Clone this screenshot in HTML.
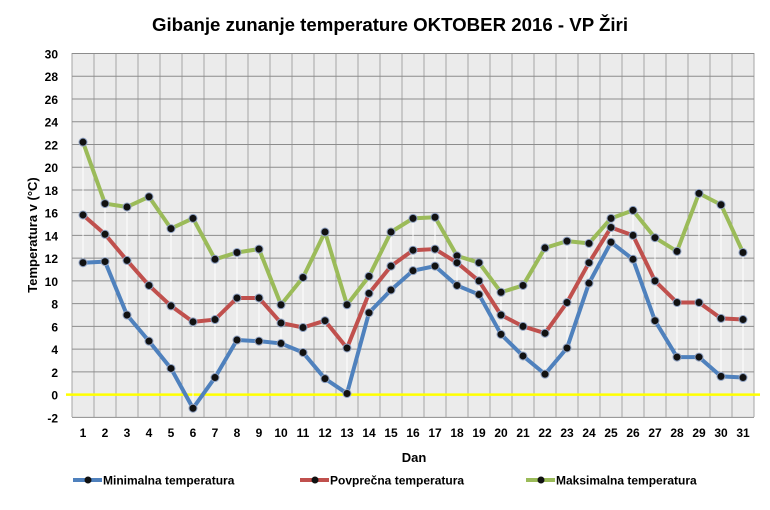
<!DOCTYPE html>
<html><head><meta charset="utf-8"><style>
body{margin:0;background:#fff;width:770px;height:505px;overflow:hidden}
svg text{font-family:"Liberation Sans",sans-serif;font-weight:bold}
</style></head><body>
<svg id="s" width="770" height="505" xmlns="http://www.w3.org/2000/svg">
<rect width="770" height="505" fill="#fff"/>
<text x="390" y="31" font-size="18" text-anchor="middle" textLength="476" lengthAdjust="spacingAndGlyphs">Gibanje zunanje temperature OKTOBER 2016 - VP Žiri</text>
<rect x="72" y="53" width="682" height="364" fill="#ebebeb"/>
<g id="g"></g>
<text x="414" y="462" font-size="13" text-anchor="middle">Dan</text>
<text transform="translate(37,235) rotate(-90)" font-size="13" text-anchor="middle">Temperatura v (°C)</text>
<g id="leg"></g>
</svg>
<script>
var mn=[11.6,11.7,7.0,4.7,2.3,-1.2,1.5,4.8,4.7,4.5,3.7,1.4,0.1,7.2,9.2,10.9,11.3,9.6,8.8,5.3,3.4,1.8,4.1,9.8,13.4,11.9,6.5,3.3,3.3,1.6,1.5];
var av=[15.8,14.1,11.8,9.6,7.8,6.4,6.6,8.5,8.5,6.3,5.9,6.5,4.1,8.9,11.3,12.7,12.8,11.6,10.0,7.0,6.0,5.4,8.1,11.6,14.7,14.0,10.0,8.1,8.1,6.7,6.6];
var mx=[22.2,16.8,16.5,17.4,14.6,15.5,11.9,12.5,12.8,7.9,10.3,14.3,7.9,10.4,14.3,15.5,15.6,12.2,11.6,9.0,9.6,12.9,13.5,13.3,15.5,16.2,13.8,12.6,17.7,16.7,12.5];
function Y(v){return 394.6-11.37*v}
function X(i){return 83+22*i}
var h='';
for(var k=0;k<=31;k++){var x=72+22*k;h+='<line x1="'+x+'" y1="53" x2="'+x+'" y2="417" stroke="#a6a6a6" stroke-width="1"/>';}
for(var v=-2;v<=30;v+=2){var y=Y(v);h+='<line x1="72" y1="'+y+'" x2="754" y2="'+y+'" stroke="#8c8c8c" stroke-width="1"/>';
h+='<text x="58" y="'+(y+5)+'" font-size="12" text-anchor="end">'+v+'</text>';}
h+='<line x1="66" y1="'+Y(0)+'" x2="760" y2="'+Y(0)+'" stroke="#ffff00" stroke-width="2.5"/>';
for(var i=0;i<31;i++){h+='<line x1="'+X(i)+'" y1="'+Y(mx[i])+'" x2="'+X(i)+'" y2="'+Y(mn[i])+'" stroke="#fff" stroke-width="1"/>';
h+='<text x="'+X(i)+'" y="437" font-size="12" text-anchor="middle">'+(i+1)+'</text>';}
function ser(d,c){var p=d.map(function(v,i){return X(i)+','+Y(v)}).join(' ');
var s='<polyline points="'+p+'" fill="none" stroke="'+c+'" stroke-width="4" stroke-linejoin="round"/>';
d.forEach(function(v,i){s+='<circle cx="'+X(i)+'" cy="'+Y(v)+'" r="4" fill="#111" stroke="#8ea0c0" stroke-width="1"/>';});return s;}
h+=ser(mx,'#9bbb59')+ser(av,'#c0504d')+ser(mn,'#4f81bd');
document.getElementById('g').innerHTML=h;
var L=[[73,'#4f81bd','Minimalna temperatura'],[300,'#c0504d','Povprečna temperatura'],[526,'#9bbb59','Maksimalna temperatura']];
var l='';L.forEach(function(a){l+='<line x1="'+a[0]+'" y1="480" x2="'+(a[0]+29)+'" y2="480" stroke="'+a[1]+'" stroke-width="4"/><circle cx="'+(a[0]+15)+'" cy="480" r="3.5" fill="#111"/><text x="'+(a[0]+30)+'" y="484.5" font-size="12">'+a[2]+'</text>';});
document.getElementById('leg').innerHTML=l;
</script>
</body></html>
